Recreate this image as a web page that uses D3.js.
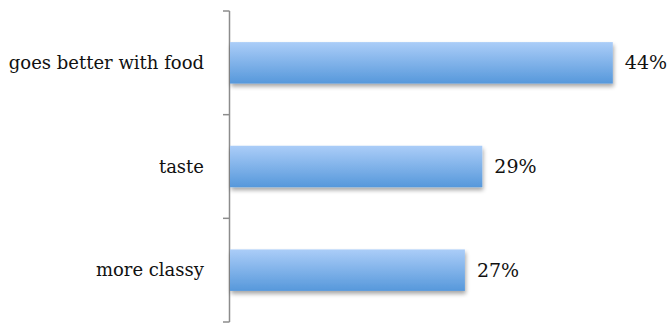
<!DOCTYPE html>
<html>
<head>
<meta charset="utf-8">
<script src="https://cdn.jsdelivr.net/npm/d3@7"></script>
<style>
  html, body { margin: 0; padding: 0; background: #fff; }
  svg { display: block; }
</style>
</head>
<body>
<script>
// Reasons given, share of respondents (%)
const categories = ["goes better with food", "taste", "more classy"];
const shares = [44, 29, 27];
const valueLabels = ["44%", "29%", "27%"];

const W = 671, H = 324;
const margin = { top: 11, right: 20, bottom: 2, left: 229 };

const svg = d3.select("body").append("svg")
  .attr("width", W).attr("height", H);

const defs = svg.append("defs");
const grad = defs.append("linearGradient")
  .attr("id", "barFill").attr("x1", 0).attr("y1", 0).attr("x2", 0).attr("y2", 1);
grad.append("stop").attr("offset", "0%").attr("stop-color", "#abcdf8");
grad.append("stop").attr("offset", "100%").attr("stop-color", "#5698db");

const shadow = defs.append("filter").attr("id", "barShadow")
  .attr("x", "-5%").attr("y", "-20%").attr("width", "115%").attr("height", "160%");
shadow.append("feGaussianBlur").attr("in", "SourceAlpha").attr("stdDeviation", 2);
shadow.append("feOffset").attr("dx", 1).attr("dy", 3).attr("result", "off");
shadow.append("feComponentTransfer").append("feFuncA").attr("type", "linear").attr("slope", 0.35);
const merge = shadow.append("feMerge");
merge.append("feMergeNode");
merge.append("feMergeNode").attr("in", "SourceGraphic");

const x = d3.scaleLinear().domain([0, 50]).range([margin.left + 1, margin.left + 1 + 8.7 * 50]);
const y = d3.scaleBand().domain(categories)
  .range([margin.top, H - margin.bottom]).paddingInner(0.6).paddingOuter(0.3);

// Category axis with the tick marks between groups
const axis = svg.append("g").attr("transform", `translate(${margin.left},0)`);
const bounds = d3.range(categories.length + 1).map(i => margin.top + i * (H - margin.bottom - margin.top) / categories.length);
axis.append("line")
  .attr("x1", 0.5).attr("x2", 0.5)
  .attr("y1", bounds[0]).attr("y2", bounds[bounds.length - 1])
  .attr("stroke", "#8c8c8c").attr("stroke-width", 1.5);
axis.selectAll("line.tick").data(bounds).join("line")
  .attr("class", "tick")
  .attr("x1", -6).attr("x2", 0.5)
  .attr("y1", d => d).attr("y2", d => d)
  .attr("stroke", "#8c8c8c").attr("stroke-width", 1.5);

axis.selectAll("text").data(categories).join("text")
  .attr("x", -25)
  .attr("y", d => y(d) + y.bandwidth() / 2)
  .attr("dy", "0.35em")
  .attr("text-anchor", "end")
  .attr("font-family", "'DejaVu Serif', 'Liberation Serif', serif")
  .attr("font-size", 18)
  .attr("fill", "#111")
  .text(d => d);

// Bars
svg.append("g").selectAll("rect").data(shares).join("rect")
  .attr("x", x(0))
  .attr("y", (d, i) => y(categories[i]))
  .attr("width", d => x(d) - x(0))
  .attr("height", y.bandwidth())
  .attr("fill", "url(#barFill)")
  .attr("filter", "url(#barShadow)");

// Value labels
svg.append("g").selectAll("text").data(shares).join("text")
  .attr("x", d => x(d) + 12)
  .attr("y", (d, i) => y(categories[i]) + y.bandwidth() / 2)
  .attr("dy", "0.35em")
  .attr("font-family", "'DejaVu Serif', 'Liberation Serif', serif")
  .attr("font-size", 19)
  .attr("fill", "#111")
  .text((d, i) => valueLabels[i]);
</script>
</body>
</html>
